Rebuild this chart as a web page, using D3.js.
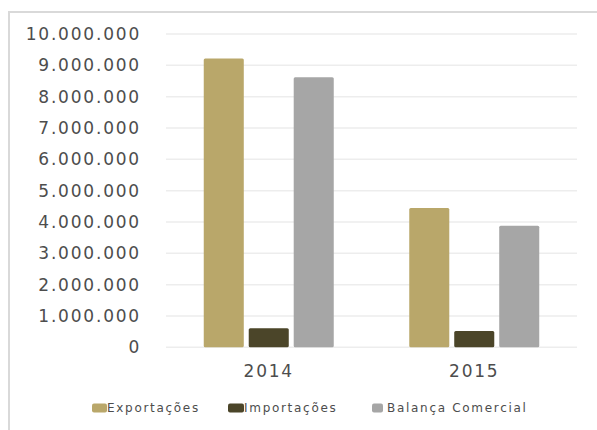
<!DOCTYPE html>
<html>
<head>
<meta charset="utf-8">
<script src="https://cdn.jsdelivr.net/npm/d3@7"></script>
<style>
  body { margin: 0; background: #fff; }
  svg { display: block; font-family: "DejaVu Sans", Verdana, sans-serif; }
</style>
</head>
<body>
<svg id="chart" width="597" height="430"></svg>
<script>
"use strict";

const years = ["2014", "2015"];
const series = ["Exportações", "Importações", "Balança Comercial"];
const colors = ["#B9A76A", "#4B4529", "#A6A6A6"];
const exportacoes = [9220000, 4450000];
const importacoes = [610000, 520000];
const balanca = [8620000, 3880000];
const yTicks = [0, 1000000, 2000000, 3000000, 4000000, 5000000, 6000000, 7000000, 8000000, 9000000, 10000000];

let values = [exportacoes, importacoes, balanca];

let svg = d3.select('#chart');

// Outer frame (only top and left edges visible in the picture)
svg.append('rect')
   .attr('x', 9).attr('y', 12)
   .attr('width', 700).attr('height', 500)
   .attr('fill', 'none')
   .attr('stroke', '#D9D9D9')
   .attr('stroke-width', 2);

const x = d3.scaleBand()
            .domain(years)
            .range([166, 577]);

const xInner = d3.scaleBand()
                 .domain(series)
                 .range([0, 130])
                 .paddingInner(0.11);

const y = d3.scaleLinear()
            .domain([0, 10000000])
            .range([347.3, 34]);

const fmt = v => d3.format(',')(v).replace(/,/g, '.');

// Gridlines
svg.append('g')
   .selectAll('line')
   .data(yTicks)
   .enter()
   .append('line')
   .attr('x1', 166).attr('x2', 577)
   .attr('y1', d => y(d)).attr('y2', d => y(d))
   .attr('stroke', '#EDEDED')
   .attr('stroke-width', 1.5);

// Y axis labels
svg.append('g')
   .selectAll('text')
   .data(yTicks)
   .enter()
   .append('text')
   .attr('x', 141)
   .attr('y', d => y(d))
   .attr('dy', '0.36em')
   .attr('text-anchor', 'end')
   .attr('font-size', 17)
   .attr('letter-spacing', 1.8)
   .attr('fill', '#4D4D4D')
   .text(d => fmt(d));

// Bars
let groups = svg.append('g')
                .selectAll('g')
                .data(years)
                .enter()
                .append('g')
                .attr('transform', (d) => `translate(${x(d) + x.bandwidth() / 2 - 65}, 0)`);

groups.selectAll('rect')
      .data((d, i) => series.map((s, j) => ({ s: s, v: values[j][i], c: colors[j] })))
      .enter()
      .append('rect')
      .attr('x', d => xInner(d.s))
      .attr('width', xInner.bandwidth())
      .attr('y', d => y(d.v))
      .attr('height', d => y(0) - y(d.v))
      .attr('rx', 1.5)
      .attr('fill', d => d.c);

// X axis labels
svg.append('g')
   .selectAll('text')
   .data(years)
   .enter()
   .append('text')
   .attr('x', d => x(d) + x.bandwidth() / 2)
   .attr('y', 377)
   .attr('text-anchor', 'middle')
   .attr('font-size', 17)
   .attr('letter-spacing', 1.8)
   .attr('fill', '#4D4D4D')
   .text(d => d);

// Legend
const legendX = [92, 228, 372];
const swatchW = [15, 16, 11];
let legend = svg.append('g')
                .selectAll('g')
                .data(series)
                .enter()
                .append('g')
                .attr('transform', (d, i) => `translate(${legendX[i]}, 408)`);

legend.append('rect')
      .attr('x', 0)
      .attr('y', -4.5)
      .attr('width', (d, i) => swatchW[i])
      .attr('height', 9)
      .attr('rx', 2)
      .attr('fill', (d, i) => colors[i]);

legend.append('text')
      .attr('x', (d, i) => swatchW[i] + (i === 2 ? 4 : 0))
      .attr('y', 0)
      .attr('dy', '0.35em')
      .attr('font-size', 12)
      .attr('letter-spacing', 1.7)
      .attr('fill', '#4D4D4D')
      .text(d => d);
</script>
</body>
</html>
